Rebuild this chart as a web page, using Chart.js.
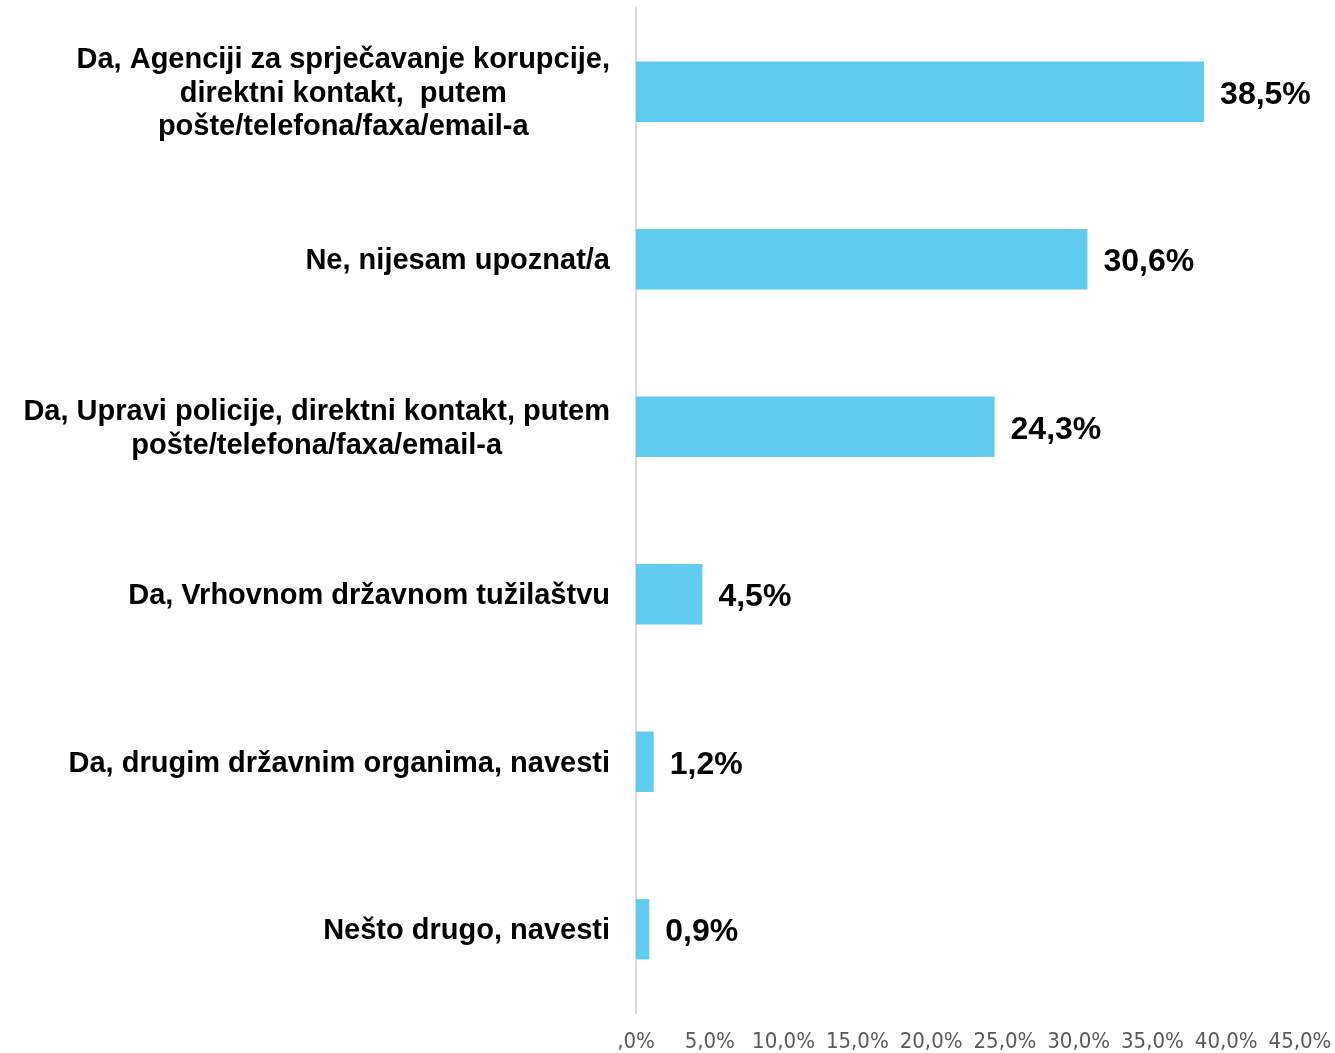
<!DOCTYPE html>
<html>
<head>
<meta charset="utf-8">
<script src="https://cdn.jsdelivr.net/npm/chart.js@4/dist/chart.umd.min.js"></script>
<style>
  html, body { margin: 0; padding: 0; background: #ffffff; }
  #wrap { width: 1335px; height: 1053px; position: relative; }
</style>
</head>
<body>
<div id="wrap"><canvas id="c"></canvas></div>
<script>
const categories = [
  ["Da, Agenciji za sprječavanje korupcije,", "direktni kontakt,  putem", "pošte/telefona/faxa/email-a"],
  ["Ne, nijesam upoznat/a"],
  ["Da, Upravi policije, direktni kontakt, putem", "pošte/telefona/faxa/email-a"],
  ["Da, Vrhovnom državnom tužilaštvu"],
  ["Da, drugim državnim organima, navesti"],
  ["Nešto drugo, navesti"]
];
const values = [38.5, 30.6, 24.3, 4.5, 1.2, 0.9];
const valueLabels = ["38,5%", "30,6%", "24,3%", "4,5%", "1,2%", "0,9%"];
const tickLabels = [",0%", "5,0%", "10,0%", "15,0%", "20,0%", "25,0%", "30,0%", "35,0%", "40,0%", "45,0%"];

const labelFont = 'bold 29px "Liberation Sans", Arial, sans-serif';
const valueFont = 'bold 32px "Liberation Sans", Arial, sans-serif';

const customLabels = {
  id: 'customLabels',
  afterDatasetsDraw(chart) {
    const ctx = chart.ctx;
    const yScale = chart.scales.y;
    const area = chart.chartArea;
    ctx.save();
    ctx.fillStyle = '#000000';
    ctx.textBaseline = 'middle';
    ctx.font = labelFont;
    const lineH = 33.5;
    categories.forEach((lines, i) => {
      const yc = yScale.getPixelForValue(i) + 2;
      const widths = lines.map(l => ctx.measureText(l).width);
      const blockW = Math.max(...widths);
      const right = area.left - 26;
      const cx = right - blockW / 2;
      ctx.textAlign = 'center';
      const n = lines.length;
      lines.forEach((l, k) => {
        const y = yc + (k - (n - 1) / 2) * lineH;
        ctx.fillText(l, cx, y);
      });
    });
    ctx.font = valueFont;
    ctx.textAlign = 'left';
    const meta = chart.getDatasetMeta(0);
    meta.data.forEach((bar, i) => {
      ctx.fillText(valueLabels[i], bar.x + 16, bar.y + 3);
    });
    ctx.restore();
  }
};

new Chart(document.getElementById('c'), {
  type: 'bar',
  data: {
    labels: categories.map(c => c.join(' ')),
    datasets: [{
      data: values,
      backgroundColor: '#5FCBEF',
      borderWidth: 0,
      barPercentage: 0.36,
      categoryPercentage: 1.0
    }]
  },
  options: {
    indexAxis: 'y',
    responsive: true,
    maintainAspectRatio: false,
    animation: false,
    layout: { padding: { top: 8, right: 35, bottom: 0, left: 0 } },
    plugins: {
      legend: { display: false },
      tooltip: { enabled: false }
    },
    scales: {
      x: {
        min: 0,
        max: 45,
        grid: { display: false, drawTicks: false },
        border: { display: false },
        ticks: {
          stepSize: 5,
          padding: 16,
          color: '#595959',
          font: { family: '"DejaVu Sans Condensed", "DejaVu Sans", sans-serif', size: 22 },
          maxRotation: 0,
          autoSkip: false,
          callback: (v, i) => tickLabels[i]
        },
        afterFit(scale) { scale.height = 40; scale.paddingLeft = 0; scale.paddingRight = 0; }
      },
      y: {
        grid: { display: false, drawTicks: false },
        border: { display: true, color: '#D9D9D9', width: 2 },
        ticks: { display: false },
        afterFit(scale) { scale.width = 636; scale.paddingTop = 0; scale.paddingBottom = 0; }
      }
    }
  },
  plugins: [customLabels]
});
</script>
</body>
</html>
